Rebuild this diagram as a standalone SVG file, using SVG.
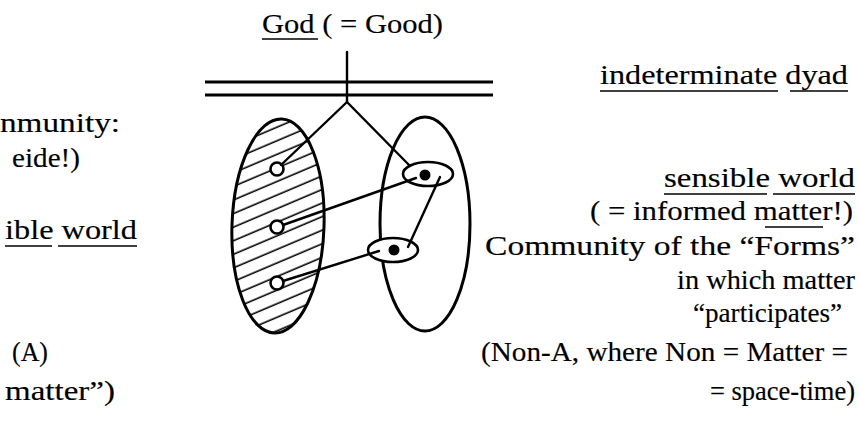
<svg xmlns="http://www.w3.org/2000/svg" width="859" height="425" viewBox="0 0 859 425">
<style>
  text { font-family: "Liberation Serif", "Times New Roman", serif; font-size: 27px; fill: #000; stroke: #000; stroke-width: 0.15; }
  .ul { stroke: #000; stroke-width: 1.6; }
  .bar { stroke: #000; stroke-width: 3; fill: none; }
  .con { stroke: #000; stroke-width: 2.4; fill: none; stroke-linecap: round; }
  .big { stroke: #000; stroke-width: 3; }
  .small { fill: #fff; stroke: #000; stroke-width: 2.6; }
  .dot { fill: #000; }
</style>
<defs>
  <pattern id="hatch" patternUnits="userSpaceOnUse" width="14" height="12.5" patternTransform="rotate(-25)">
    <line x1="0" y1="6" x2="14" y2="6" stroke="#000" stroke-width="1.6"/>
  </pattern>
</defs>
<rect width="859" height="425" fill="#fff"/>

<g id="god">
  <text x="262" y="33" textLength="181" lengthAdjust="spacingAndGlyphs">God ( = Good)</text>
  <line class="ul" x1="262" y1="39" x2="318" y2="39"/>
</g>
<g id="dyad">
  <line class="bar" x1="205" y1="82" x2="493" y2="82"/>
  <line class="bar" x1="205" y1="95" x2="493" y2="95"/>
  <text x="600" y="84" textLength="248" lengthAdjust="spacingAndGlyphs">indeterminate dyad</text>
  <line class="ul" x1="600" y1="91" x2="778" y2="91"/>
  <line class="ul" x1="790" y1="91" x2="848" y2="91"/>
</g>

<g id="left-texts">
  <text x="0" y="132" textLength="120" lengthAdjust="spacingAndGlyphs">nmunity:</text>
  <text x="12" y="167" textLength="68" lengthAdjust="spacingAndGlyphs">eide!)</text>
  <text x="5" y="239" textLength="132" lengthAdjust="spacingAndGlyphs">ible world</text>
  <line class="ul" x1="5" y1="246" x2="52" y2="246"/>
  <line class="ul" x1="58" y1="246" x2="137" y2="246"/>
  <text x="12" y="361" textLength="36" lengthAdjust="spacingAndGlyphs">(A)</text>
  <text x="5" y="400" textLength="110" lengthAdjust="spacingAndGlyphs">matter”)</text>
</g>

<g id="right-texts">
  <text x="664" y="187" textLength="191" lengthAdjust="spacingAndGlyphs">sensible world</text>
  <line class="ul" x1="664" y1="194" x2="767" y2="194"/>
  <line class="ul" x1="773" y1="194" x2="855" y2="194"/>
  <text x="590" y="220" textLength="263" lengthAdjust="spacingAndGlyphs">( = informed matter!)</text>
  <line class="ul" x1="765" y1="227" x2="823" y2="227"/>
  <text x="485" y="255" textLength="370" lengthAdjust="spacingAndGlyphs">Community of the “Forms”</text>
  <text x="677" y="289" textLength="178" lengthAdjust="spacingAndGlyphs">in which matter</text>
  <text x="693" y="322" textLength="149" lengthAdjust="spacingAndGlyphs">“participates”</text>
  <text x="481" y="361" textLength="367" lengthAdjust="spacingAndGlyphs">(Non-A, where Non = Matter =</text>
  <text x="710" y="400" textLength="145" lengthAdjust="spacingAndGlyphs">= space-time)</text>
</g>

<g id="intelligible-world">
  <ellipse class="big" cx="278" cy="226" rx="46" ry="107" fill="url(#hatch)" transform="rotate(2 278 226)"/>
</g>
<g id="sensible-world">
  <ellipse class="big" cx="425" cy="224" rx="45" ry="107" fill="none"/>
</g>

<g id="form-1"><circle class="small" cx="277" cy="169" r="6.5"/></g>
<g id="form-2"><circle class="small" cx="277" cy="227" r="6.5"/></g>
<g id="form-3"><circle class="small" cx="277" cy="283" r="6.5"/></g>
<g id="thing-1">
  <ellipse class="small" cx="428" cy="174" rx="25" ry="12"/>
  <circle class="dot" cx="425" cy="175" r="5.5"/>
</g>
<g id="thing-2">
  <ellipse class="small" cx="393" cy="250" rx="25" ry="12"/>
  <circle class="dot" cx="394" cy="250" r="5.5"/>
</g>

<g id="connectors">
  <line class="con" x1="347" y1="52" x2="347" y2="102"/>
  <line class="con" x1="347" y1="102" x2="281" y2="165"/>
  <line class="con" x1="347" y1="102" x2="410" y2="166"/>
  <line class="con" x1="283" y1="225" x2="416" y2="178"/>
  <line class="con" x1="283" y1="281" x2="379" y2="251"/>
  <line class="con" x1="440" y1="177" x2="408" y2="247"/>
</g>
</svg>
